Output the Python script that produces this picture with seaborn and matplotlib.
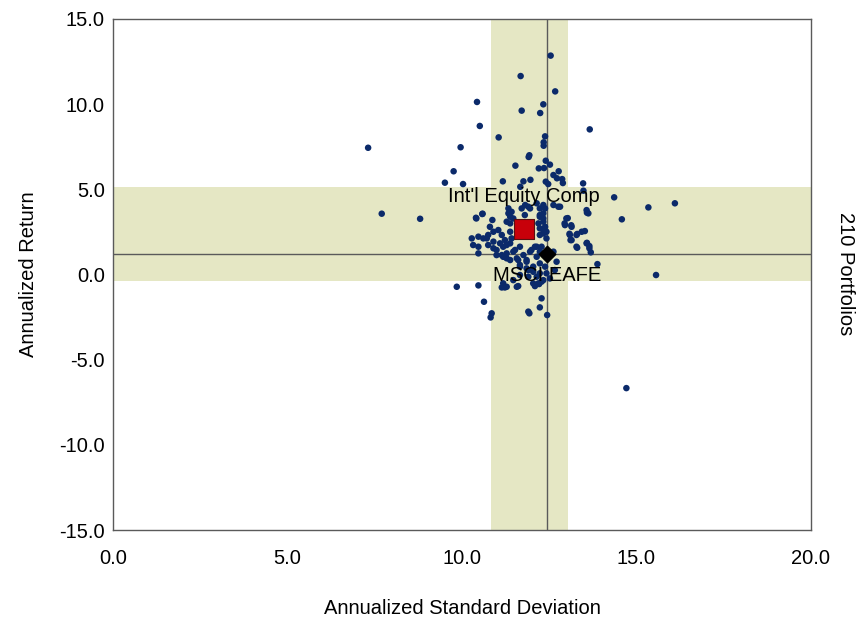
import matplotlib
matplotlib.use("Agg")
import matplotlib.pyplot as plt
import seaborn as sns
import pandas as pd

sns.set_style("white")
plt.rcParams['font.family'] = ['Liberation Sans', 'DejaVu Sans']
plt.rcParams['text.color'] = 'black'
plt.rcParams['axes.labelcolor'] = 'black'
plt.rcParams['xtick.color'] = 'black'
plt.rcParams['ytick.color'] = 'black'

# portfolio universe: annualized std dev (x) and annualized return (y)
port_sd = [
    12.54, 11.68, 12.67, 10.43, 12.33, 11.71, 12.24, 10.51, 13.66, 11.05,
    12.38, 12.34, 12.34, 7.31, 9.96, 11.93, 11.91, 12.40, 11.53, 12.52,
    12.20, 12.35, 9.76, 12.77, 12.62, 12.72, 12.87, 12.89, 9.51, 10.03,
    11.17, 11.76, 11.96, 12.40, 12.47, 13.47, 11.67, 14.36, 13.48,
    7.70, 8.80, 14.58, 13.58, 10.41, 10.59, 13.03, 13.13, 12.94, 13.52,
    13.30, 13.08, 13.11, 13.58, 13.65, 13.69, 13.30, 13.88,
    15.34, 16.10, 15.56, 14.71,
    10.58, 10.40, 10.87, 11.28, 11.38, 11.42, 11.33, 11.71, 11.90, 11.80,
    12.23, 12.23, 12.33, 12.23, 10.80, 10.90, 11.04, 10.75, 10.61, 10.47,
    10.28, 10.32, 11.14, 11.23, 11.38, 11.42, 11.28, 11.09,
    10.47, 10.47, 10.75, 10.90, 10.99, 11.18, 11.28, 11.38, 11.52, 11.66,
    11.76, 11.57, 11.85, 11.95, 12.09, 12.14, 12.23, 12.04, 11.90, 11.66,
    11.38, 11.14,
    9.85, 10.47, 10.63, 10.85, 10.82, 11.14, 11.23, 11.61, 12.09, 12.21,
    12.28, 12.23, 11.90, 11.93, 12.44,
    12.23, 12.33, 12.04, 11.28, 11.57, 11.18,
    12.38, 12.33, 12.38, 12.33, 12.42, 12.28, 12.38, 12.76, 12.62, 12.99,
    12.95, 13.14, 13.57, 13.62, 13.09, 13.14, 13.28, 13.43, 13.28, 13.57,
    13.65, 12.42, 12.66, 12.38, 12.28, 12.52,
    11.81, 11.95, 12.14, 12.33, 12.81, 11.33, 11.47, 11.38, 12.23, 12.33,
    12.19, 12.33, 12.23, 12.42,
    10.71, 10.90, 10.99, 11.18, 11.28, 11.47, 11.61, 11.85, 11.99, 12.14,
    12.23, 12.71, 12.62,
    11.66, 11.85, 12.04, 12.14, 11.90, 11.66, 11.47, 12.19,
]
port_ret = [
    12.85, 11.65, 10.75, 10.13, 9.99, 9.62, 9.48, 8.72, 8.52, 8.05,
    8.11, 7.76, 7.56, 7.44, 7.47, 7.00, 6.90, 6.68, 6.39, 6.45,
    6.23, 6.25, 6.06, 6.06, 5.84, 5.65, 5.60, 5.37, 5.39, 5.31,
    5.47, 5.47, 5.56, 5.45, 5.31, 5.35, 5.15, 4.53, 4.92,
    3.57, 3.27, 3.24, 3.63, 3.29, 3.57, 3.31, 2.89, 3.00, 2.55,
    2.38, 2.39, 2.02, 1.86, 1.67, 1.30, 1.57, 0.61,
    3.94, 4.18, -0.03, -6.67,
    3.55, 3.33, 3.20, 3.10, 3.39, 3.68, 3.88, 3.88, 3.98, 3.49,
    3.88, 3.39, 3.10, 2.71, 2.80, 2.51, 2.61, 2.32, 2.12, 2.22,
    2.12, 1.73, 2.32, 2.02, 2.51, 2.12, 1.73, 1.83,
    1.63, 1.24, 1.73, 1.54, 1.14, 1.63, 1.24, 1.83, 1.44, 1.63,
    1.14, 0.95, 0.85, 1.34, 1.63, 1.04, 0.65, 0.46, 0.26, 0.56,
    0.85, 1.14,
    -0.72, -0.64, -1.60, -2.28, -2.52, -0.76, -0.76, -0.68, -0.68, -0.56,
    -1.40, -1.93, -2.18, -2.28, -2.38,
    0.07, -0.33, -0.52, -0.72, -0.72, -0.52,
    3.88, 3.29, 2.80, 2.41, 2.12, 1.63, 1.24, 3.98, 4.08, 3.29,
    2.90, 2.80, 3.78, 3.59, 2.32, 2.02, 2.32, 2.51, 1.63, 1.83,
    1.54, 0.07, 0.26, 0.46, -0.42, -0.23,
    4.08, 3.88, 4.18, 4.08, 3.98, 3.59, 3.29, 3.00, 3.49, 3.59,
    3.00, 2.61, 2.32, 2.51,
    2.12, 1.93, 1.44, 1.04, 0.95, 1.34, 0.85, 0.75, 1.44, 1.63,
    1.34, 0.75, 1.34,
    0.46, 0.36, 0.16, -0.13, -0.13, -0.03, -0.33, -0.52,
]

comp_name = "Int'l Equity Comp"
comp_sd, comp_ret = 11.78, 2.67
bench_name = "MSCI EAFE"
bench_sd, bench_ret = 12.44, 1.18

# shaded ranges
band_sd = (10.83, 13.04)
band_ret = (-0.38, 5.14)

df = pd.DataFrame({"sd": port_sd, "ret": port_ret})

band_col = "#e5e7c4"
frame_col = "#5a5a5a"

fig = plt.figure(figsize=(8.58, 6.24), dpi=100)
ax = fig.add_axes([113 / 858, 1 - 530 / 624, (811 - 113) / 858, (530 - 19) / 624])

ax.axvspan(band_sd[0], band_sd[1], color=band_col, zorder=0, lw=0)
ax.axhspan(band_ret[0], band_ret[1], color=band_col, zorder=0, lw=0)
ax.axvline(bench_sd, color=frame_col, lw=1, zorder=1)
ax.axhline(bench_ret, color=frame_col, lw=1, zorder=1)

sns.scatterplot(data=df, x="sd", y="ret", ax=ax, color="#0b2a6a",
                s=22, edgecolor="none", zorder=3)

ax.scatter([comp_sd], [comp_ret], marker="s", s=190, color="#c8000a",
           edgecolor="#5a1010", linewidth=0.8, zorder=5)
ax.scatter([bench_sd], [bench_ret], marker="D", s=70, color="black",
           edgecolor="black", zorder=5)

ax.text(comp_sd, comp_ret + 1.9, comp_name, ha="center", va="center",
        fontsize=14.5, zorder=6)
ax.text(bench_sd, bench_ret - 1.25, bench_name, ha="center", va="center",
        fontsize=14.5, zorder=6)

ax.set_xlim(0, 20)
ax.set_ylim(-15, 15)
ax.set_xticks([0, 5, 10, 15, 20])
ax.set_yticks([-15, -10, -5, 0, 5, 10, 15])
ax.set_xticklabels([f"{v:.1f}" for v in [0, 5, 10, 15, 20]])
ax.set_yticklabels([f"{v:.1f}" for v in [-15, -10, -5, 0, 5, 10, 15]])
ax.tick_params(direction="in", length=9, width=0.8, color=frame_col,
               labelcolor="black", labelsize=14.5, pad=6)
ax.tick_params(axis="x", pad=14)

for sp in ax.spines.values():
    sp.set_color(frame_col)
    sp.set_linewidth(1)

ax.set_xlabel("Annualized Standard Deviation", fontsize=14.5, labelpad=22)
ax.set_ylabel("Annualized Return", fontsize=14.5, labelpad=15)
fig.text(846 / 858, 1 - 274 / 624, "210 Portfolios", rotation=270,
         ha="center", va="center", fontsize=14.5)

fig.savefig("out.png", dpi=100)
